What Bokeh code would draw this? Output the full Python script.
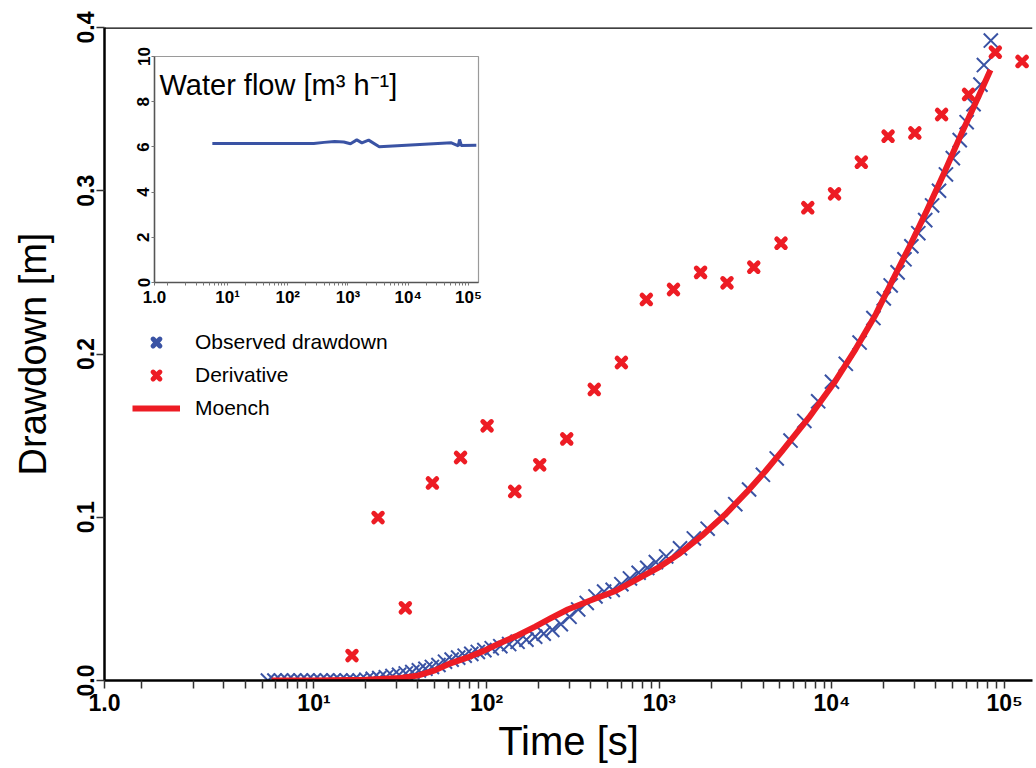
from bokeh.plotting import figure
from bokeh.layouts import column
from bokeh.models import FixedTicker, Legend, LegendItem, Label, ColumnDataSource, Span
from bokeh.embed import file_html
from bokeh.resources import INLINE

# ---------------- data ----------------
obs_t = [5.41, 5.90, 6.44, 7.03, 7.67, 8.38, 9.14, 9.98, 10.9, 11.9, 13.0, 14.2, 15.5, 16.9, 18.4,
         20.1, 21.9, 23.9, 26.1, 28.5, 31.1, 34.0, 37.1, 40.5, 44.2, 48.2, 52.6, 57.4, 62.7, 68.4,
         74.6, 81.5, 88.9, 97.0,
         107, 120, 135, 151, 170, 191, 214, 240, 269, 302, 339, 380, 427, 479, 537, 603, 676, 759,
         851, 955,
         1096, 1318, 1585, 1905, 2291, 2754, 3311, 3981, 4786, 5754, 6918, 8318, 10000, 12023,
         14454, 17378, 19953, 21878, 23988, 26303, 28840, 31623, 34674, 38019, 41687, 45709,
         50119, 54954, 60256, 66069, 72444, 75858, 83176]
obs_s = [0, 0, 0, 0, 0, 0, 0, 0, 0, 0, 0, 0, 0, 0, 0,
         0.0005, 0.001, 0.0015, 0.002, 0.0028, 0.0035, 0.0043, 0.0052, 0.0062, 0.0072, 0.0083,
         0.0095, 0.0115, 0.0128, 0.014, 0.0152, 0.0163, 0.0175, 0.0186,
         0.0198, 0.021, 0.0223, 0.0237, 0.025, 0.0268, 0.0287, 0.031, 0.0345, 0.039, 0.0435,
         0.0475, 0.0515, 0.0545, 0.0555, 0.059, 0.0625, 0.066, 0.069, 0.0725,
         0.076, 0.081, 0.087, 0.093, 0.100, 0.108, 0.117, 0.126, 0.136, 0.147, 0.159, 0.171,
         0.183, 0.194, 0.207, 0.222, 0.234, 0.242, 0.250, 0.258, 0.266, 0.274, 0.282, 0.291,
         0.300, 0.310, 0.320, 0.331, 0.342, 0.353, 0.365, 0.377, 0.392]

der_t = [16.6, 23.5, 33.8, 48.5, 70.6, 100.6, 145.5, 203, 291, 420, 603, 841, 1208, 1734, 2466,
         3524, 5068, 7244, 10350, 14790, 21130, 30200, 43150, 61800, 88300, 126200]
der_s = [0.0153, 0.0998, 0.0445, 0.121, 0.1366, 0.156, 0.1158, 0.1321, 0.148, 0.1783, 0.1948,
         0.2334, 0.2395, 0.25, 0.2436, 0.2532, 0.2679, 0.2896, 0.2981, 0.3175, 0.3334, 0.3354,
         0.3467, 0.359, 0.3849, 0.3792]

moench_t = [5.68, 10, 20, 31.6, 39.8, 50.1, 61.7, 79.4, 95.5, 120, 151, 191, 234, 295, 398, 562,
            759, 1000, 1318, 1758, 2399, 3214, 4100, 5140, 7345, 10470, 13710, 17950, 22390,
            28180, 35480, 44670, 56230, 70790, 82800]
moench_s = [0, 0, 0.0004, 0.0015, 0.003, 0.0062, 0.0105, 0.0145, 0.018, 0.023, 0.0276, 0.033,
            0.038, 0.0435, 0.049, 0.055, 0.0625, 0.0695, 0.078, 0.0885, 0.1015, 0.1155, 0.128,
            0.1405, 0.161, 0.1835, 0.203, 0.2244, 0.245, 0.266, 0.288, 0.311, 0.335, 0.358, 0.374]

flow_t = [5.6, 270, 400, 600, 850, 1100, 1400, 1700, 2200, 3300, 52000, 68000, 71000, 76000, 135000]
flow_q = [6.15, 6.15, 6.2, 6.24, 6.22, 6.14, 6.31, 6.18, 6.3, 6.01, 6.18, 6.05, 6.33, 6.06, 6.07]

x_major = [0.612, 10, 100, 1000, 10000, 100000]
x_major_labels = ["1.0", "10\u00b9", "10\u00b2", "10\u00b3", "10\u2074", "10\u2075"]
x_minor = [1, 2, 3, 4, 5, 6, 7, 8, 9, 20, 30, 40, 50, 60, 70, 80, 90,
           200, 300, 400, 500, 600, 700, 800, 900, 2000, 3000, 4000, 5000, 6000, 7000, 8000, 9000,
           20000, 30000, 40000, 50000, 60000, 70000, 80000, 90000]
inset_x_major = [0.614, 10, 100, 1000, 10000, 100000]
y_ticks = [0, 0.1, 0.2, 0.3, 0.4]
y_labels = ["0.0", "0.1", "0.2", "0.3", "0.4"]
inset_y_ticks = [0, 2, 4, 6, 8, 10]

BLUE = "#3A53A4"
RED = "#ED1C24"
FONT = "Liberation Sans"

# ---------------- main figure ----------------
p = figure(width=1036, height=766, x_axis_type="log", x_range=(0.612, 1.45e5), y_range=(0, 0.4),
           output_backend="svg", toolbar_location=None,
           min_border_left=104, min_border_right=4, min_border_top=27, min_border_bottom=86)
p.xgrid.visible = False
p.ygrid.visible = False
p.outline_line_color = None
p.background_fill_color = "white"

p.xaxis.ticker = FixedTicker(ticks=x_major, minor_ticks=x_minor)
p.xaxis.major_label_overrides = dict(zip(x_major, x_major_labels))
p.yaxis.ticker = FixedTicker(ticks=y_ticks)
p.yaxis.major_label_overrides = dict(zip(y_ticks, y_labels))

for ax in (p.xaxis, p.yaxis):
    ax.axis_line_color = "black"
    ax.axis_line_width = 2.5
    ax.major_tick_line_color = "#333333"
    ax.major_tick_line_width = 1.5
    ax.major_tick_in = 0
    ax.major_tick_out = 8
    ax.minor_tick_line_color = "#333333"
    ax.minor_tick_line_width = 1.5
    ax.minor_tick_in = 0
    ax.minor_tick_out = 8
    ax.major_label_text_font = FONT
    ax.major_label_text_font_style = "bold"
    ax.major_label_text_font_size = "23px"
    ax.major_label_text_color = "black"
    ax.axis_label_text_font = FONT
    ax.axis_label_text_font_style = "normal"
    ax.axis_label_text_color = "black"

p.xaxis.axis_label = "Time [s]"
p.xaxis.axis_label_text_font_size = "40px"
p.xaxis.major_label_standoff = 1
p.xaxis.axis_label_standoff = 0
p.yaxis.axis_label = "Drawdown [m]"
p.yaxis.axis_label_text_font_size = "38px"
p.yaxis.major_label_orientation = "parallel"
p.yaxis.major_label_standoff = 3
p.yaxis.axis_label_standoff = 20

p.add_layout(Span(location=0.4, dimension="width", line_color="black", line_width=2.5))

obs_src = ColumnDataSource(dict(t=obs_t, s=obs_s))
der_src = ColumnDataSource(dict(t=der_t, s=der_s))
moe_src = ColumnDataSource(dict(t=moench_t, s=moench_s))

r_obs = p.scatter("t", "s", source=obs_src, marker="x", size=20, line_color=BLUE, line_width=2)
r_der = p.scatter("t", "s", source=der_src, marker="x", size=12, line_color=RED, line_width=5,
                  line_cap="round")
r_moe = p.line("t", "s", source=moe_src, line_color=RED, line_width=6, line_join="round")
# legend-only sample of the observed marker (no data point)
r_obs_leg = p.scatter("t", "s", source=ColumnDataSource(dict(t=[float("nan")], s=[float("nan")])),
                      marker="x", size=12, line_color=BLUE, line_width=5, line_cap="round")

legend = Legend(items=[LegendItem(label="Observed drawdown", renderers=[r_obs_leg]),
                       LegendItem(label="Derivative", renderers=[r_der]),
                       LegendItem(label="Moench", renderers=[r_moe])],
                location=(28, 260), padding=0, margin=0, spacing=9,
                glyph_width=48, glyph_height=24, label_height=24, label_standoff=15,
                label_text_font=FONT, label_text_font_size="21px", label_text_color="black",
                border_line_color=None, background_fill_alpha=0)
p.add_layout(legend)

# ---------------- inset ----------------
# the column aligns left/right borders of its plots, so the inset uses the same border widths
q = figure(width=432, height=264, x_axis_type="log", x_range=(0.614, 1.466e5), y_range=(0, 10),
           output_backend="svg", toolbar_location=None,
           min_border_left=104, min_border_right=4, min_border_top=10, min_border_bottom=28)
q.border_fill_alpha = 0
q.background_fill_color = "white"
q.xgrid.visible = False
q.ygrid.visible = False
q.outline_line_color = "#9a9a9a"
q.outline_line_width = 1.2
q.xaxis.ticker = FixedTicker(ticks=inset_x_major, minor_ticks=x_minor)
q.xaxis.major_label_overrides = dict(zip(inset_x_major, x_major_labels))
q.yaxis.ticker = FixedTicker(ticks=inset_y_ticks)
for ax in (q.xaxis, q.yaxis):
    ax.axis_line_color = "#555555"
    ax.axis_line_width = 1.5
    ax.major_tick_line_color = "#777777"
    ax.minor_tick_line_color = "#777777"
    ax.major_tick_in = 0
    ax.major_tick_out = 3
    ax.minor_tick_in = 0
    ax.minor_tick_out = 3
    ax.major_label_text_font = FONT
    ax.major_label_text_font_style = "bold"
    ax.major_label_text_font_size = "17px"
    ax.major_label_text_color = "black"
    ax.major_label_standoff = 2
q.yaxis.major_label_orientation = "parallel"
q.line(flow_t, flow_q, line_color=BLUE, line_width=3)
q.add_layout(Label(x=0.744, y=8.72, text="Water flow [m\u00b3 h\u207b\u00b9]", text_font=FONT,
                   text_font_size="29px", text_baseline="alphabetic", text_color="black"))
q.styles = {"position": "absolute", "left": "50px", "top": "46px", "z-index": "5"}

root = column(p, q)

open("out.html", "w").write(file_html(root, INLINE))
